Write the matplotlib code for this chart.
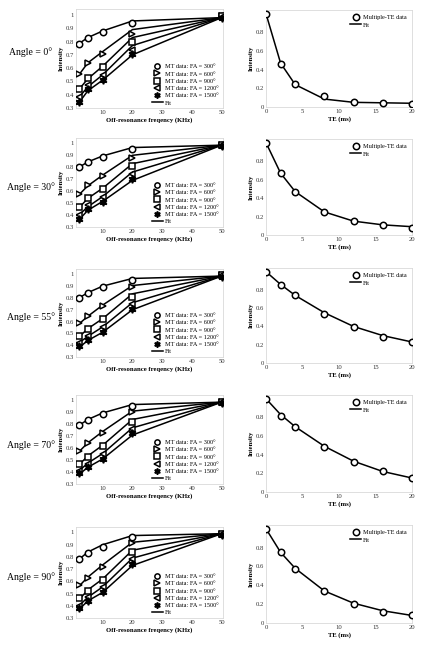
import numpy as np
import matplotlib
matplotlib.use("Agg")
import matplotlib.pyplot as plt
from matplotlib.lines import Line2D

plt.rcParams['font.family'] = ['Liberation Serif', 'DejaVu Serif']

# Data
angles = ["0°", "30°", "55°", "70°", "90°"]
fa_labels = ["300°", "600°", "900°", "1200°", "1500°"]
freq = [2, 5, 10, 20, 50]
te = [0, 2, 4, 8, 12, 16, 20]

# MT data per angle: rows = FA 300, 600, 900, 1200, 1500
mt_0 = [[0.78, 0.825, 0.875, 0.94, 0.99],
        [0.555, 0.64, 0.71, 0.86, 0.99],
        [0.44, 0.525, 0.61, 0.80, 0.99],
        [0.38, 0.47, 0.55, 0.74, 0.985],
        [0.345, 0.44, 0.51, 0.71, 0.98]]
mt_30 = [[0.80, 0.845, 0.89, 0.95, 0.99],
         [0.58, 0.65, 0.73, 0.88, 0.99],
         [0.47, 0.54, 0.62, 0.81, 0.99],
         [0.40, 0.48, 0.55, 0.74, 0.99],
         [0.37, 0.45, 0.51, 0.70, 0.98]]
mt_55 = [[0.80, 0.845, 0.89, 0.95, 0.99],
         [0.59, 0.65, 0.73, 0.89, 0.99],
         [0.48, 0.54, 0.62, 0.81, 0.99],
         [0.42, 0.48, 0.55, 0.75, 0.99],
         [0.39, 0.44, 0.51, 0.71, 0.98]]
mt_70 = [[0.79, 0.835, 0.885, 0.955, 0.99],
         [0.58, 0.64, 0.73, 0.90, 0.99],
         [0.47, 0.53, 0.62, 0.82, 0.99],
         [0.41, 0.47, 0.55, 0.76, 0.99],
         [0.39, 0.44, 0.51, 0.73, 0.98]]
mt_90 = [[0.78, 0.83, 0.885, 0.96, 0.99],
         [0.57, 0.63, 0.72, 0.91, 0.99],
         [0.46, 0.52, 0.61, 0.84, 0.99],
         [0.40, 0.47, 0.55, 0.78, 0.99],
         [0.38, 0.44, 0.51, 0.74, 0.98]]

# MT fits
fit_0 = [[0.785, 0.83, 0.88, 0.955, 0.98],
         [0.55, 0.64, 0.725, 0.89, 0.98],
         [0.44, 0.52, 0.615, 0.83, 0.98],
         [0.38, 0.46, 0.55, 0.77, 0.98],
         [0.34, 0.43, 0.51, 0.70, 0.98]]
fit_30 = [[0.80, 0.845, 0.895, 0.965, 0.985],
          [0.57, 0.645, 0.735, 0.90, 0.985],
          [0.46, 0.54, 0.625, 0.83, 0.985],
          [0.40, 0.47, 0.555, 0.76, 0.985],
          [0.36, 0.44, 0.515, 0.69, 0.985]]
fit_55 = [[0.80, 0.845, 0.90, 0.965, 0.985],
          [0.58, 0.645, 0.74, 0.905, 0.985],
          [0.47, 0.54, 0.625, 0.835, 0.985],
          [0.42, 0.475, 0.555, 0.76, 0.985],
          [0.38, 0.44, 0.51, 0.70, 0.985]]
fit_70 = [[0.79, 0.84, 0.895, 0.965, 0.985],
          [0.57, 0.645, 0.74, 0.91, 0.985],
          [0.46, 0.535, 0.625, 0.84, 0.985],
          [0.41, 0.475, 0.555, 0.77, 0.985],
          [0.38, 0.44, 0.51, 0.71, 0.985]]
fit_90 = [[0.78, 0.84, 0.90, 0.975, 0.99],
          [0.56, 0.635, 0.735, 0.92, 0.99],
          [0.45, 0.53, 0.62, 0.855, 0.99],
          [0.40, 0.47, 0.555, 0.79, 0.99],
          [0.37, 0.44, 0.51, 0.73, 0.99]]

# Multiple-TE data and fit
te_0 = [1.0, 0.46, 0.25, 0.12, 0.05, 0.04, 0.03]
te_fit_0 = [1.0, 0.47, 0.24, 0.085, 0.05, 0.045, 0.04]
te_30 = [1.0, 0.67, 0.47, 0.25, 0.15, 0.11, 0.08]
te_fit_30 = [1.0, 0.67, 0.47, 0.25, 0.15, 0.11, 0.09]
te_55 = [1.0, 0.85, 0.74, 0.54, 0.39, 0.29, 0.23]
te_fit_55 = [1.0, 0.86, 0.74, 0.55, 0.40, 0.30, 0.23]
te_70 = [1.0, 0.82, 0.70, 0.48, 0.32, 0.22, 0.15]
te_fit_70 = [1.0, 0.83, 0.70, 0.49, 0.33, 0.22, 0.15]
te_90 = [1.0, 0.75, 0.57, 0.34, 0.20, 0.12, 0.08]
te_fit_90 = [1.0, 0.75, 0.58, 0.34, 0.21, 0.13, 0.08]

mt_all = [mt_0, mt_30, mt_55, mt_70, mt_90]
fit_all = [fit_0, fit_30, fit_55, fit_70, fit_90]
te_all = [te_0, te_30, te_55, te_70, te_90]
te_fit_all = [te_fit_0, te_fit_30, te_fit_55, te_fit_70, te_fit_90]

W, H = 424, 650
left_rows = [(9, 108), (138, 227), (269, 357), (395, 484), (527, 618)]
right_rows = [(10, 107), (139, 235), (268, 363), (395, 492), (525, 623)]
angle_y = [52, 187, 317, 445, 577]

markers = ['o', '>', 's', '<', (6, 1, 0)]
spine_col = '#d9d9d9'
tick_col = '#333333'

fig = plt.figure(figsize=(W / 100, H / 100), dpi=100)


def style(ax):
    for s in ax.spines.values():
        s.set_color(spine_col)
        s.set_linewidth(0.6)
    ax.tick_params(length=0, labelsize=4.8, pad=1.5, labelcolor=tick_col)


for i in range(5):
    # MT panel
    t, b = left_rows[i]
    ax = fig.add_axes([76 / W, 1 - b / H, (223 - 76) / W, (b - t) / H])
    handles = []
    for k in range(5):
        ax.plot(freq, fit_all[i][k], color='black', lw=1.1, zorder=2)
        ax.plot(freq, mt_all[i][k], linestyle='none', marker=markers[k],
                ms=4.6 if k < 4 else 5.4, mfc='white' if k < 4 else 'black',
                mec='black', mew=1.1, zorder=3)
        handles.append(Line2D([], [], linestyle='none', marker=markers[k],
                              ms=3.8 if k < 4 else 4.4, mfc='white' if k < 4 else 'black',
                              mec='black', mew=1.1,
                              label="MT data: FA = " + fa_labels[k]))
    handles.append(Line2D([], [], color='black', lw=1.1, label='Fit'))
    ax.set_xlim(1, 50.5)
    ax.set_ylim(0.3, 1.045)
    ax.set_xticks([10, 20, 30, 40, 50])
    ax.set_yticks([0.3, 0.4, 0.5, 0.6, 0.7, 0.8, 0.9, 1])
    ax.set_yticklabels(["0.3", "0.4", "0.5", "0.6", "0.7", "0.8", "0.9", "1"])
    style(ax)
    ax.set_xlabel("Off-resonance freqency (KHz)", fontsize=4.8, fontweight='bold', labelpad=1.5)
    ax.set_ylabel("Intensity", fontsize=4.8, fontweight='bold', labelpad=1.5)
    ax.legend(handles=handles, loc='lower right', bbox_to_anchor=(1.0, -0.02),
              frameon=False, fontsize=4.5, handlelength=1.8, handletextpad=0.3,
              labelspacing=0.3, borderpad=0.2)

    # Multiple-TE panel
    t, b = right_rows[i]
    ax2 = fig.add_axes([266 / W, 1 - b / H, (412 - 266) / W, (b - t) / H])
    ax2.plot(te, te_fit_all[i], color='black', lw=1.1, zorder=2, label='Fit')
    ax2.plot(te, te_all[i], linestyle='none', marker='o', ms=4.6, mfc='white',
             mec='black', mew=1.1, zorder=3, label='Multiple-TE data')
    ax2.set_xlim(0, 20)
    ax2.set_ylim(0, 1.04)
    ax2.set_xticks([0, 5, 10, 15, 20])
    ax2.set_yticks([0, 0.2, 0.4, 0.6, 0.8])
    ax2.set_yticklabels(["0", "0.2", "0.4", "0.6", "0.8"])
    style(ax2)
    ax2.set_xlabel("TE (ms)", fontsize=4.8, fontweight='bold', labelpad=1.5)
    ax2.set_ylabel("Intensity", fontsize=4.8, fontweight='bold', labelpad=1.5)
    h, l = ax2.get_legend_handles_labels()
    ax2.legend(h[::-1], l[::-1], loc='upper right', frameon=False, fontsize=4.5,
               handlelength=1.8, handletextpad=0.3, labelspacing=0.3, borderpad=0.3)

    fig.text(31 / W, 1 - angle_y[i] / H, "Angle = " + angles[i], fontsize=7,
             ha='center', va='center')

fig.savefig("out.png", dpi=100)
